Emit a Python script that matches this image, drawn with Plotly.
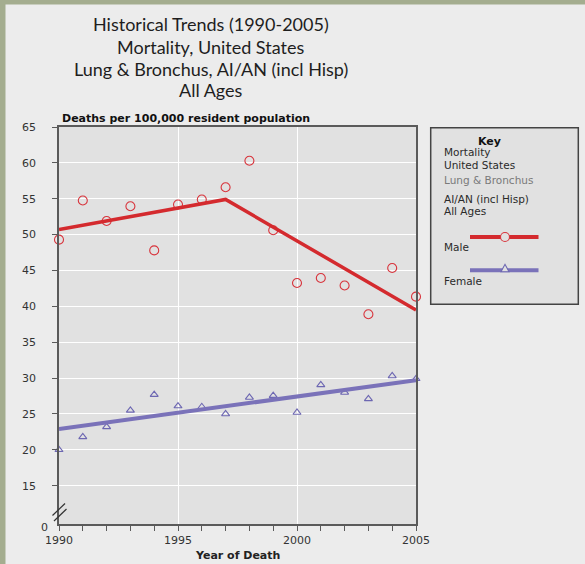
import plotly.graph_objects as go

# ---- data ----
years = list(range(1990, 2006))
male = [49.3, 54.75, 51.9, 53.95, 47.8, 54.2, 54.9, 56.6, 60.3, 50.6,
        43.25, 43.95, 42.9, 38.9, 45.35, 41.35]
female = [20.0, 21.8, 23.2, 25.5, 27.7, 26.1, 26.0, 25.0, 27.3, 27.55,
          25.2, 29.05, 28.0, 27.1, 30.3, 29.9]
male_trend_years = [1990, 1997, 2005]
male_trend = [50.7, 54.9, 39.5]
female_trend_years = [1990, 2005]
female_trend = [22.9, 29.7]

y_tickvals = [15, 20, 25, 30, 35, 40, 45, 50, 55, 60, 65]
x_tickvals = [1990, 1995, 2000, 2005]

title_lines = ["Historical Trends (1990-2005)", "Mortality, United States",
               "Lung & Bronchus, AI/AN (incl Hisp)", "All Ages"]

RED = "#d42a2e"
RED_MK = "#d8343c"
PURPLE = "#7a72b9"
PURPLE_MK = "#6d67b2"
PLOT_BG = "#e1e1e1"
PAGE_BG = "#ececec"
AXIS = "#5a5a5a"
TXT = "#2a2a2a"
OLIVE = "#a4ad8f"

W, H = 585, 564
PL, PR, PT, PB = 59, 416, 127, 524


def px(x):
    return (x - PL) / (PR - PL)


def py(y):
    return (PB - y) / (PB - PT)


fig = go.Figure()

fig.add_trace(go.Scatter(x=years, y=male, mode="markers", cliponaxis=False,
                         marker=dict(symbol="circle-open", size=9,
                                     color=RED_MK, line=dict(width=1.1, color=RED_MK)),
                         showlegend=False))
fig.add_trace(go.Scatter(x=years, y=female, mode="markers", cliponaxis=False,
                         marker=dict(symbol="triangle-up-open", size=7,
                                     color=PURPLE_MK, line=dict(width=1.1, color=PURPLE_MK)),
                         showlegend=False))
fig.add_trace(go.Scatter(x=male_trend_years, y=male_trend, mode="lines",
                         line=dict(color=RED, width=3.5), showlegend=False, cliponaxis=False))
fig.add_trace(go.Scatter(x=female_trend_years, y=female_trend, mode="lines",
                         line=dict(color=PURPLE, width=4), showlegend=False, cliponaxis=False))

shapes = []
# olive frame strips
shapes.append(dict(type="rect", xref="paper", yref="paper", x0=px(-5), x1=px(5.5),
                   y0=py(H + 5), y1=py(-5), fillcolor=OLIVE, line=dict(width=0)))
shapes.append(dict(type="rect", xref="paper", yref="paper", x0=px(-5), x1=px(W + 5),
                   y0=py(4.5), y1=py(-5), fillcolor=OLIVE, line=dict(width=0)))
# axis break marks
for (x0, y0, x1, y1) in [(52.5, 515.5, 65, 503.5), (54, 521, 66.5, 509)]:
    shapes.append(dict(type="line", xref="paper", yref="paper", x0=px(x0), y0=py(y0),
                       x1=px(x1), y1=py(y1), line=dict(color="#333333", width=1.2)))
# key box
shapes.append(dict(type="rect", xref="paper", yref="paper", x0=px(430.7), x1=px(578.3),
                   y0=py(304.3), y1=py(127.7), fillcolor=PLOT_BG,
                   line=dict(color="#444444", width=1.5), layer="below"))
# key sample lines
shapes.append(dict(type="line", xref="paper", yref="paper", x0=px(470), x1=px(538.5),
                   y0=py(237), y1=py(237), line=dict(color=RED, width=4)))
shapes.append(dict(type="line", xref="paper", yref="paper", x0=px(470), x1=px(538.5),
                   y0=py(270.3), y1=py(270.3), line=dict(color=PURPLE, width=4)))
shapes.append(dict(type="circle", xref="paper", yref="paper", xsizemode="pixel", ysizemode="pixel",
                   xanchor=px(505), yanchor=py(237), x0=-4.5, x1=4.5, y0=-4.5, y1=4.5,
                   fillcolor=PLOT_BG, line=dict(color=RED_MK, width=1.1)))
shapes.append(dict(type="path", xref="paper", yref="paper", xsizemode="pixel", ysizemode="pixel",
                   xanchor=px(505), yanchor=py(268.5), path="M -4 -3.2 L 4 -3.2 L 0 4.2 Z",
                   fillcolor=PLOT_BG, line=dict(color=PURPLE_MK, width=1.1)))

ann = []
title_y = [24, 47, 69, 90.5]
for t, yy in zip(title_lines, title_y):
    ann.append(dict(text=t, xref="paper", yref="paper", x=px(210.5), y=py(yy), xanchor="center",
                    yanchor="middle", showarrow=False,
                    font=dict(family="Lato", size=18, color="#1e1e1e")))
ann.append(dict(text="Deaths per 100,000 resident population", xref="paper", yref="paper",
                x=px(59.5), y=py(118.5), xanchor="left", yanchor="middle", showarrow=False,
                font=dict(family="DejaVu Sans", size=11, color="#111111", weight="bold")))
ann.append(dict(text="Year of Death", xref="paper", yref="paper", x=px(237), y=py(555.5),
                xanchor="center", yanchor="middle", showarrow=False,
                font=dict(family="DejaVu Sans", size=11, color="#222222", weight="bold")))
ann.append(dict(text="0", xref="paper", yref="paper", x=px(44), y=py(527), xanchor="center",
                yanchor="middle", showarrow=False,
                font=dict(family="DejaVu Sans", size=11, color="#333333")))
# key text
ann.append(dict(text="Key", xref="paper", yref="paper", x=px(489), y=py(141.5), xanchor="center",
                yanchor="middle", showarrow=False,
                font=dict(family="DejaVu Sans", size=11, color="#111111", weight="bold")))
key_lines = [("Mortality", 152.3, TXT), ("United States", 164.6, TXT),
             ("Lung & Bronchus", 180.3, "#7a7a7a"), ("AI/AN (incl Hisp)", 198.6, TXT),
             ("All Ages", 210.9, TXT), ("Male", 246.7, TXT), ("Female", 280.7, TXT)]
for t, yy, c in key_lines:
    ann.append(dict(text=t, xref="paper", yref="paper", x=px(441.5), y=py(yy), xanchor="left",
                    yanchor="middle", showarrow=False,
                    font=dict(family="DejaVu Sans", size=10.5, color=c)))

fig.update_layout(
    width=W, height=H,
    margin=dict(l=PL, r=W - PR, t=PT, b=H - PB, pad=0),
    paper_bgcolor=PAGE_BG, plot_bgcolor=PLOT_BG,
    shapes=shapes, annotations=ann, showlegend=False,
    xaxis=dict(range=[1990, 2005], tickvals=x_tickvals, ticktext=[str(v) for v in x_tickvals],
               ticks="outside", ticklen=5, tickcolor=AXIS, tickwidth=1,
               showgrid=True, gridcolor="#ffffff", gridwidth=1,
               showline=True, linecolor=AXIS, linewidth=1.5, mirror=True, zeroline=False,
               minor=dict(dtick=1, ticks="outside", ticklen=5, tickcolor=AXIS, showgrid=False),
               tickfont=dict(family="DejaVu Sans", size=11, color="#333333")),
    yaxis=dict(range=[9.66, 65], tickvals=y_tickvals, ticktext=[str(v) for v in y_tickvals],
               ticks="outside", ticklen=5, tickcolor=AXIS, tickwidth=1,
               showgrid=True, gridcolor="#ffffff", gridwidth=1,
               showline=True, linecolor=AXIS, linewidth=1.5, mirror=True, zeroline=False,
               ticklabelstandoff=14,
               tickfont=dict(family="DejaVu Sans", size=11, color="#333333")),
)

fig.write_html("out.html", config={"displayModeBar": False},
               post_script="document.body.style.margin='0px';document.body.style.padding='0px';")
